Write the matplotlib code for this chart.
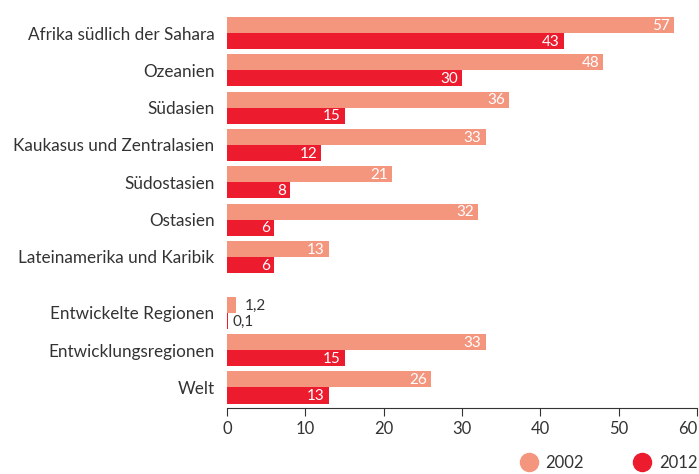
import matplotlib
matplotlib.use("Agg")
import matplotlib.pyplot as plt
from matplotlib.lines import Line2D

categories = ["Afrika südlich der Sahara", "Ozeanien", "Südasien",
              "Kaukasus und Zentralasien", "Südostasien", "Ostasien",
              "Lateinamerika und Karibik", "Entwickelte Regionen",
              "Entwicklungsregionen", "Welt"]
v2002 = [57, 48, 36, 33, 21, 32, 13, 1.2, 33, 26]
v2012 = [43, 30, 15, 12, 8, 6, 6, 0.1, 15, 13]
series_labels = ["2002", "2012"]
xticks = [0, 10, 20, 30, 40, 50, 60]

c2002 = "#F4957E"
c2012 = "#EC1C2E"
txt = "#333333"
plt.rcParams['font.family'] = ['Lato', 'DejaVu Sans']

fig = plt.figure(figsize=(6.99, 4.74), dpi=100)
ax = fig.add_axes([227/699, 1-408/474, 470/699, (408-17)/474])

pos = [0, 1, 2, 3, 4, 5, 6, 7.5, 8.5, 9.5]
h = 0.43
for p, a, b in zip(pos, v2002, v2012):
    ax.barh(p - h/2, a, height=h, color=c2002, align='center')
    ax.barh(p + h/2, b, height=h, color=c2012, align='center')
    for val, yy in ((a, p - h/2), (b, p + h/2)):
        s = ("%g" % val).replace(".", ",")
        if val >= 3:
            ax.text(val - 0.5, yy + 0.02, s, color="white", ha="right", va="center", fontsize=11)
        else:
            ax.text(val + 1.1 if val > 1 else val + 0.6, yy + 0.02, s, color=txt,
                    ha="left", va="center", fontsize=11)

ax.set_xlim(0, 60)
ax.set_ylim(10.05, -0.43)
ax.set_yticks(pos)
ax.set_yticklabels(categories, fontsize=12.3, color=txt)
ax.set_xticks(xticks)
ax.set_xticklabels([str(t) for t in xticks], fontsize=12, color=txt)
lbls = ax.get_xticklabels()
lbls[-1].set_horizontalalignment("right")
lbls[-1].set_x(60.3)
for s in ["top", "right", "left"]:
    ax.spines[s].set_visible(False)
ax.spines["bottom"].set_color(txt)
ax.tick_params(axis="y", length=0, pad=9)
ax.tick_params(axis="x", length=6, color=txt, direction="out", pad=3)

handles = [Line2D([], [], marker="o", linestyle="", markersize=13, color=c2002),
           Line2D([], [], marker="o", linestyle="", markersize=13, color=c2012)]
fig.legend(handles, series_labels, loc="lower right", bbox_to_anchor=(1.02, -0.025),
           ncol=2, frameon=False, fontsize=12, handletextpad=0.02, columnspacing=2.5,
           labelcolor=txt)

fig.savefig("out.png", dpi=100)
